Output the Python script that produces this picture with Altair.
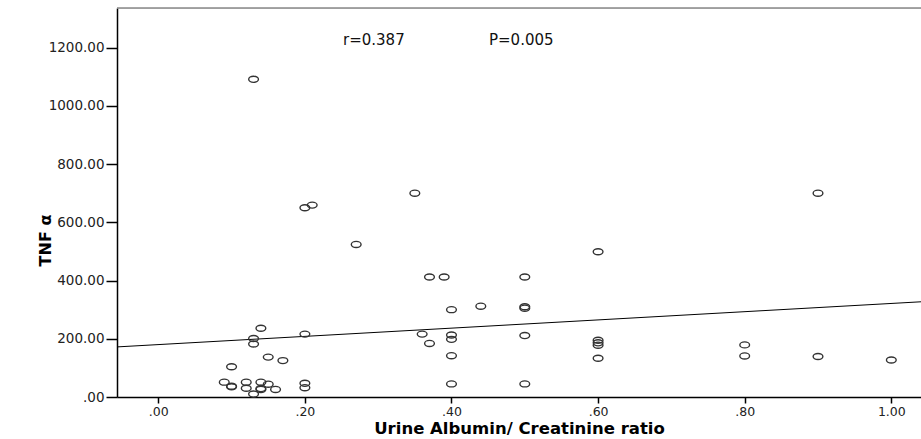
import altair as alt
import pandas as pd

# Scatter data
ratio = [0.13, 0.20, 0.21, 0.27, 0.35, 0.37, 0.39, 0.50, 0.60, 0.90,
         0.40, 0.44, 0.50, 0.50, 0.14, 0.13, 0.13, 0.20, 0.36, 0.37,
         0.40, 0.40, 0.50, 0.60, 0.60, 0.60, 0.15, 0.17, 0.40, 0.60,
         0.80, 0.80, 0.90, 1.00, 0.10, 0.09, 0.10, 0.10, 0.12, 0.12,
         0.13, 0.14, 0.14, 0.14, 0.15, 0.16, 0.20, 0.20, 0.40, 0.50]
tnf = [1091, 650, 659, 524, 700, 412, 412, 412, 499, 700,
       300, 312, 305, 310, 236, 201, 182, 216, 216, 184,
       213, 198, 211, 195, 186, 178, 137, 125, 142, 133,
       179, 141, 139, 127, 104, 51, 35, 37, 51, 30,
       10, 51, 26, 29, 44, 26, 47, 32, 45, 45]

# Fit line end points
fit_x = [-0.0563, 1.0405]
fit_y = [172, 327]

x_ticks = [0.0, 0.2, 0.4, 0.6, 0.8, 1.0]
y_ticks = [0, 200, 400, 600, 800, 1000, 1200]
annotations = ["r=0.387", "P=0.005"]
panel_label = ["g"]

X_DOMAIN = [-0.0563, 1.0405]
Y_DOMAIN = [0, 1336]
FONT = "DejaVu Sans"

pts = pd.DataFrame({"ratio": ratio, "tnf": tnf})
fit = pd.DataFrame({"ratio": fit_x, "tnf": fit_y})

xscale = alt.Scale(domain=X_DOMAIN, nice=False, zero=False)
yscale = alt.Scale(domain=Y_DOMAIN, nice=False, zero=False)

xaxis = alt.Axis(
    title="Urine Albumin/ Creatinine ratio",
    values=x_ticks,
    labelExpr="datum.value < 1 ? slice(format(datum.value, '.2f'), 1) : format(datum.value, '.2f')",
    grid=False, domainColor="#000", domainWidth=1.5, tickColor="#000", tickWidth=1.5,
    tickSize=6, labelPadding=2, labelFont=FONT, labelFontSize=12.5, labelColor="#222",
    titleFont=FONT, titleFontSize=16.5, titleFontWeight="bold", titleColor="#000",
    titlePadding=3,
)
yaxis = alt.Axis(
    title="TNF α",
    values=y_ticks,
    labelExpr="datum.value == 0 ? '.00' : format(datum.value, '.2f')",
    grid=False, domainColor="#000", domainWidth=1.5, tickColor="#000", tickWidth=1.5,
    tickSize=11, labelPadding=2, labelFont=FONT, labelFontSize=13.5, labelColor="#222",
    titleFont=FONT, titleFontSize=16, titleFontWeight="bold", titleColor="#000",
    titleX=-72, titleY=232, titleBaseline="middle", titleAnchor="middle",
)

ellipse = "M-1,0A1,0.62 0 1,1 1,0A1,0.62 0 1,1 -1,0Z"

points = alt.Chart(pts).mark_point(
    shape=ellipse, filled=False, size=95, stroke="#333", strokeWidth=1.4, opacity=1
).encode(
    x=alt.X("ratio:Q", scale=xscale, axis=xaxis),
    y=alt.Y("tnf:Q", scale=yscale, axis=yaxis),
)

line = alt.Chart(fit).mark_line(color="#000", strokeWidth=1, clip=True).encode(
    x=alt.X("ratio:Q", scale=xscale),
    y=alt.Y("tnf:Q", scale=yscale),
)

top_border = alt.Chart(pd.DataFrame({"a": [0]})).mark_rule(
    color="#888", strokeWidth=1.5
).encode(x=alt.value(0), x2=alt.value(804), y=alt.value(0))

ann_df = pd.DataFrame({"label": annotations, "px": [226, 372]})
ann = alt.Chart(ann_df).mark_text(
    font=FONT, fontSize=15, color="#111", align="left", baseline="middle"
).encode(text="label:N", x=alt.X("px:Q", scale=None), y=alt.value(32))

# partially visible panel letter above the frame (cut off in the reference)
g_df = pd.DataFrame({"label": panel_label})
g_txt = alt.Chart(g_df).mark_text(
    font=FONT, fontSize=13, fontWeight="bold", color="#222", align="left",
    baseline="alphabetic"
).encode(text="label:N", x=alt.value(-1), y=alt.value(-11))

chart = alt.layer(line, points, top_border, ann, g_txt).properties(
    width=804, height=389,
    autosize=alt.AutoSizeParams(type="none"),
    padding={"left": 117, "top": 8, "right": 0, "bottom": 42},
).configure_view(stroke=None).configure(background="white")

chart.save("out.html", embed_options={"renderer": "svg", "actions": False})
